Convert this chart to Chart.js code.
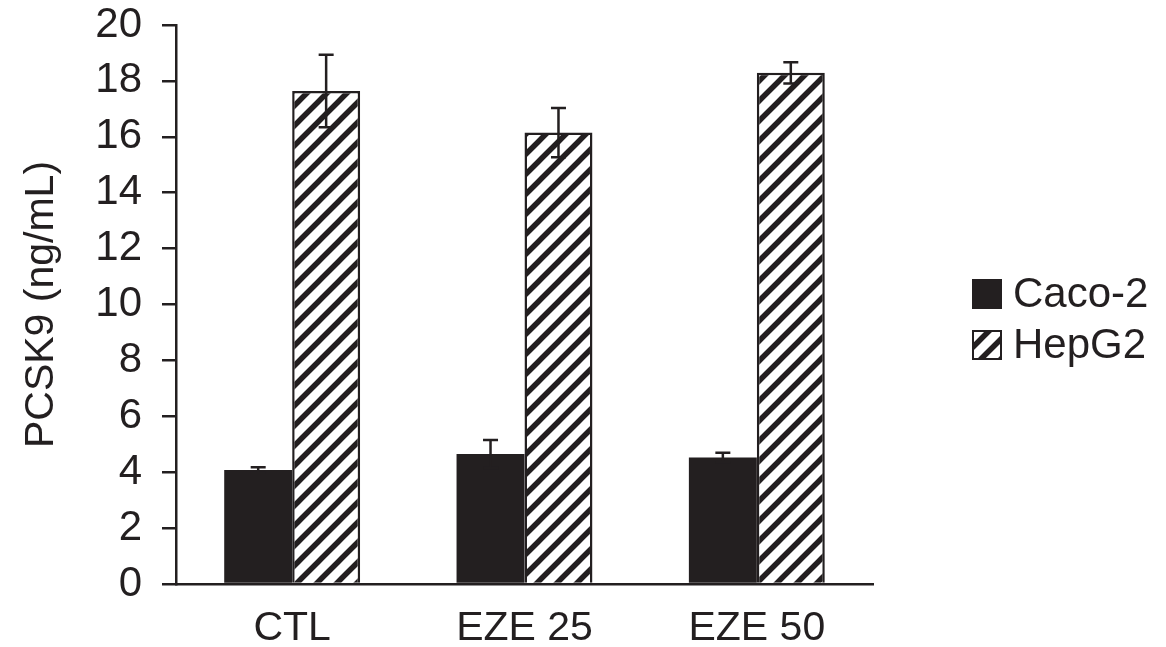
<!DOCTYPE html>
<html>
<head>
<meta charset="utf-8">
<script src="https://cdn.jsdelivr.net/npm/chart.js@4/dist/chart.umd.min.js"></script>
<style>
  html, body { margin: 0; padding: 0; background: #ffffff; }
  #wrap { width: 1166px; height: 647px; }
</style>
</head>
<body>
<div id="wrap"><canvas id="c" width="1166" height="647"></canvas></div>
<script>
// Treatment groups on the x axis
const categories = ['CTL', 'EZE 25', 'EZE 50'];
// Secreted PCSK9 (ng/mL), mean and error
const caco2 = [4.08, 4.65, 4.53];
const caco2Err = [0.10, 0.50, 0.17];
const hepg2 = [17.64, 16.15, 18.29];
const hepg2Err = [1.30, 0.88, 0.38];
// Y axis range and step
const yMin = 0, yMax = 20, yStep = 2;

const INK = '#231f20';
const FONT = '"Liberation Sans", Arial, Helvetica, sans-serif';

// Diagonal hatch used for the HepG2 bars
function makeHatch(size, width) {
  const t = document.createElement('canvas');
  t.width = size; t.height = size;
  const g = t.getContext('2d');
  g.fillStyle = '#ffffff';
  g.fillRect(0, 0, size, size);
  g.strokeStyle = INK;
  g.lineWidth = width;
  g.lineCap = 'square';
  g.beginPath();
  g.moveTo(0, size); g.lineTo(size, 0);
  g.moveTo(-size / 2, size / 2); g.lineTo(size / 2, -size / 2);
  g.moveTo(size / 2, size * 1.5); g.lineTo(size * 1.5, size / 2);
  g.stroke();
  return document.getElementById('c').getContext('2d').createPattern(t, 'repeat');
}
const hatch = makeHatch(20, 5.5);

const errors = [caco2Err, hepg2Err];

// Error bars drawn above each bar through the value scale
const errorBars = {
  id: 'errorBars',
  afterDatasetsDraw(chart) {
    const ctx = chart.ctx;
    const ys = chart.scales.y;
    ctx.save();
    ctx.strokeStyle = INK;
    ctx.lineWidth = 2.5;
    chart.data.datasets.forEach((ds, i) => {
      const meta = chart.getDatasetMeta(i);
      meta.data.forEach((bar, j) => {
        const v = ds.data[j], e = errors[i][j];
        const yt = ys.getPixelForValue(v + e);
        const yb = ys.getPixelForValue(v - e);
        const x = bar.x, cap = 7.5;
        ctx.beginPath();
        ctx.moveTo(x, yt); ctx.lineTo(x, yb);
        ctx.moveTo(x - cap, yt); ctx.lineTo(x + cap, yt);
        ctx.moveTo(x - cap, yb); ctx.lineTo(x + cap, yb);
        ctx.stroke();
      });
    });
    ctx.restore();
  }
};

// Legend to the right of the plot
const sideLegend = {
  id: 'sideLegend',
  afterDraw(chart) {
    const ctx = chart.ctx;
    const x0 = 972, box = 30, gap = 51, y0 = 279;
    ctx.save();
    ctx.font = '42px ' + FONT;
    ctx.textBaseline = 'middle';
    chart.data.datasets.forEach((ds, i) => {
      const y = y0 + i * gap;
      ctx.fillStyle = ds.backgroundColor;
      ctx.fillRect(x0, y, box, box);
      ctx.strokeStyle = INK;
      ctx.lineWidth = 2;
      ctx.strokeRect(x0 + 1, y + 1, box - 2, box - 2);
      ctx.fillStyle = INK;
      ctx.fillText(ds.label, x0 + 41, y + box / 2 + 1);
    });
    ctx.restore();
  }
};

new Chart(document.getElementById('c'), {
  type: 'bar',
  data: {
    labels: categories,
    datasets: [
      { label: 'Caco-2', data: caco2, backgroundColor: INK, borderWidth: 0 },
      { label: 'HepG2', data: hepg2, backgroundColor: hatch, borderColor: INK, borderWidth: 2.5 }
    ]
  },
  options: {
    responsive: false,
    animation: false,
    events: [],
    layout: { padding: { left: 0, top: 25, right: 293, bottom: 0 } },
    datasets: { bar: { barPercentage: 1.0, categoryPercentage: 0.585 } },
    plugins: { legend: { display: false }, tooltip: { enabled: false } },
    scales: {
      x: {
        grid: { display: false, drawTicks: false },
        border: { display: true, color: INK, width: 2.5 },
        ticks: { color: INK, font: { family: FONT, size: 41 }, padding: 20 },
        afterFit(s) { s.height = 63; s.paddingLeft = 0; s.paddingRight = 0; }
      },
      y: {
        min: yMin, max: yMax,
        ticks: { stepSize: yStep, color: INK, font: { family: FONT, size: 42 }, padding: 20 },
        grid: { drawOnChartArea: false, drawTicks: true, tickLength: 14, color: INK, lineWidth: 2.5 },
        border: { display: true, color: INK, width: 2.5 },
        title: { display: true, text: 'PCSK9 (ng/mL)', color: INK, font: { family: FONT, size: 41 }, padding: { top: 17, bottom: 0 } },
        afterFit(s) { s.width = 176; s.paddingTop = 0; s.paddingBottom = 0; }
      }
    }
  },
  plugins: [errorBars, sideLegend]
});
</script>
</body>
</html>
